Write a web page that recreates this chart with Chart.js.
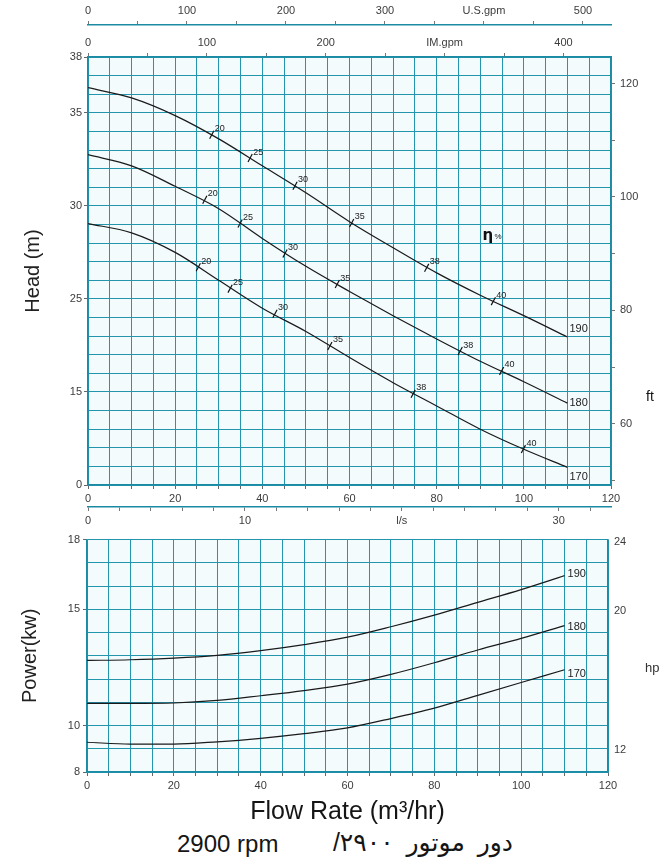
<!DOCTYPE html>
<html>
<head>
<meta charset="utf-8">
<script src="https://cdn.jsdelivr.net/npm/chart.js@4"></script>
<style>
html,body{margin:0;padding:0;background:#fff;width:667px;height:861px;overflow:hidden;}
#c1{position:absolute;left:0;top:0;}
#c2{position:absolute;left:0;top:527px;}
.cap{position:absolute;font-family:'Liberation Sans','DejaVu Sans',Arial,sans-serif;font-size:24px;color:#151515;white-space:nowrap;line-height:30px;}
</style>
</head>
<body>
<canvas id="c1" width="667" height="530"></canvas>
<canvas id="c2" width="667" height="300"></canvas>
<div class="cap" style="left:177px;top:829px;">2900 rpm</div>
<div class="cap" dir="rtl" style="left:290px;top:827px;width:223px;text-align:right;font-size:25px;word-spacing:6px;">دور موتور ۲۹۰۰/</div>
<script>
// ---------- data ----------
const flowQ = [0, 10, 20, 30, 40, 50, 60, 70, 80, 90, 100, 110];          // m3/hr
const diameters = ['190', '180', '170'];
const head190 = [36.35, 35.8, 34.85, 33.6, 32.15, 30.7, 29.15, 27.75, 26.4, 25.2, 24.1, 22.95];
const head180 = [32.75, 32.15, 31.05, 29.85, 28.25, 26.75, 25.4, 24.1, 22.85, 21.65, 20.55, 19.4];
const head170 = [29.05, 28.55, 27.5, 26.0, 24.5, 23.25, 21.85, 20.5, 19.25, 18.0, 16.92, 15.95];
const power190 = [12.8, 12.83, 12.9, 13.02, 13.22, 13.48, 13.8, 14.25, 14.75, 15.3, 15.85, 16.45];
const power180 = [10.95, 10.95, 10.97, 11.08, 11.28, 11.5, 11.78, 12.2, 12.7, 13.25, 13.75, 14.3];
const power170 = [9.28, 9.2, 9.2, 9.3, 9.45, 9.65, 9.9, 10.3, 10.75, 11.3, 11.85, 12.4];

const effLabels = [20, 25, 30, 35, 38, 40];                                  // efficiency %
const eff190Q = [28.4, 37.2, 47.5, 60.5, 77.7, 93.0];
const eff190H = [33.82, 32.57, 31.08, 29.08, 26.67, 24.88];
const eff180Q = [26.8, 34.9, 45.2, 57.2, 85.4, 94.9];
const eff180H = [30.33, 29.05, 27.44, 25.8, 22.2, 21.13];
const eff170Q = [25.3, 32.6, 42.9, 55.5, 74.6, 99.9];
const eff170H = [26.7, 25.55, 24.2, 22.47, 19.9, 16.93];

const headTickValues = [38, 35, 30, 25, 20, 15];
const headTickLabels = ['38', '35', '30', '25', '15', '0'];
const ftTickLabels = [60, 80, 100, 120];
const usTickLabels = ['0', '100', '200', '300', 'U.S.gpm', '500'];
const imTickLabels = ['0', '100', '200', 'IM.gpm', '400'];
const lsTickLabels = ['0', '10', 'l/s', '30'];
const powerTickLabels = [18, 15, 10, 8];
const hpTickLabels = [12, 20, 24];

// unit conversions
const M3H_TO_USGPM = 4.4029, M3H_TO_IMGPM = 3.6662, M3H_TO_LS = 1 / 3.6, M_TO_FT = 3.2808, KW_TO_HP = 1 / 0.7457;

// ---------- styling ----------
const GRID = '#2396ae';
const BORDER = '#1c8aa3';
const TXT = '#3c3c3c';
const FAM = "'Liberation Sans', Arial, sans-serif";
const TFONT = { family: FAM, size: 11 };
const near = (v, m) => Math.abs(v / m - Math.round(v / m)) < 1e-6;

const plotBg = {
  id: 'plotBg',
  beforeDraw(chart) {
    const { ctx, chartArea: a } = chart;
    ctx.save();
    ctx.fillStyle = '#f3fbfd';
    ctx.fillRect(a.left, a.top, a.right - a.left, a.bottom - a.top);
    ctx.restore();
  }
};

function curve(label, ys) {
  return {
    label, data: flowQ.map((q, i) => ({ x: q, y: ys[i] })),
    borderColor: '#1a1a1a', borderWidth: 1.2, pointRadius: 0, fill: false,
    cubicInterpolationMode: 'monotone', xAxisID: 'x', yAxisID: 'y'
  };
}
function effMarks(qs, hs) {
  return {
    type: 'scatter', label: 'eff', data: qs.map((q, i) => ({ x: q, y: hs[i] })),
    pointStyle: 'line', rotation: -62, pointRadius: 4.5, borderColor: '#111', borderWidth: 1.2,
    showLine: false, xAxisID: 'x', yAxisID: 'y'
  };
}

const headText = {
  id: 'headText',
  afterDatasetsDraw(chart) {
    const { ctx, chartArea: a, scales } = chart;
    ctx.save();
    ctx.fillStyle = '#222';
    ctx.textBaseline = 'middle';
    ctx.textAlign = 'left';
    ctx.font = "11px " + FAM;
    const dy = [-8, 0, 10];
    for (let d = 0; d < 3; d++) {
      const pts = chart.getDatasetMeta(d).data;
      const p = pts[pts.length - 1];
      ctx.fillText(diameters[d], p.x + 2, p.y + dy[d]);
    }
    ctx.font = "9px " + FAM;
    for (let d = 3; d < 6; d++) {
      chart.getDatasetMeta(d).data.forEach((p, i) => ctx.fillText(String(effLabels[i]), p.x + 3, p.y - 6));
    }
    const ex = scales.x.getPixelForValue(90.5), ey = scales.y.getPixelForValue(28.35);
    ctx.font = "bold 15px 'DejaVu Sans', sans-serif";
    ctx.fillStyle = '#111';
    ctx.fillText('η', ex, ey);
    ctx.font = "8px " + FAM;
    ctx.fillText('%', ex + 12, ey);
    ctx.font = "14px " + FAM;
    ctx.fillText('ft', a.right + 35, scales.y.getPixelForValue(19.7));
    ctx.restore();
  }
};

const powerText = {
  id: 'powerText',
  afterDatasetsDraw(chart) {
    const { ctx, chartArea: a, scales } = chart;
    ctx.save();
    ctx.fillStyle = '#222';
    ctx.textBaseline = 'middle';
    ctx.textAlign = 'left';
    ctx.font = "11px " + FAM;
    const dy = [-2, 1, 4];
    for (let d = 0; d < 3; d++) {
      const pts = chart.getDatasetMeta(d).data;
      const p = pts[pts.length - 1];
      ctx.fillText(diameters[d], p.x + 3, p.y + dy[d]);
    }
    ctx.font = "13px " + FAM;
    ctx.fillStyle = '#333';
    ctx.fillText('hp', a.right + 37, scales.y.getPixelForValue(12.45));
    ctx.restore();
  }
};

const flowX = (height, extra) => Object.assign({
  type: 'linear', position: 'bottom', min: 0, max: 120, weight: 1,
  ticks: { stepSize: 5, autoSkip: false, maxRotation: 0, font: TFONT, color: TXT, padding: 3,
           callback: v => near(v, 20) ? String(Math.round(v)) : '' },
  grid: { color: GRID, lineWidth: 1, tickLength: 4, tickColor: '#666' },
  border: { color: BORDER, width: 1.5 },
  afterFit: s => { s.height = height; }
}, extra || {});

// ---------- chart 1 : head ----------
new Chart(document.getElementById('c1'), {
  type: 'line',
  data: {
    datasets: [
      curve('190', head190), curve('180', head180), curve('170', head170),
      effMarks(eff190Q, eff190H), effMarks(eff180Q, eff180H), effMarks(eff170Q, eff170H)
    ]
  },
  options: {
    responsive: false, animation: false, devicePixelRatio: 1,
    layout: { padding: 0 },
    plugins: { legend: { display: false }, tooltip: { enabled: false } },
    scales: {
      x: flowX(22),
      ls: {
        type: 'linear', position: 'bottom', min: 0, max: 120 * M3H_TO_LS, weight: 2,
        afterBuildTicks: s => { s.ticks = s.ticks.filter(t => near(t.value, 2) && t.value < s.max - 0.01); },
        ticks: { stepSize: 2, includeBounds: false, autoSkip: false, maxRotation: 0, font: TFONT, color: TXT, padding: 3,
                 callback: v => near(v, 10) ? lsTickLabels[Math.round(v / 10)] : '' },
        grid: { drawOnChartArea: false, tickLength: 4, tickColor: '#777' },
        border: { color: BORDER, width: 1.5 },
        afterFit: s => { s.height = 23; }
      },
      us: {
        type: 'linear', position: 'top', min: 0, max: 120 * M3H_TO_USGPM, weight: 2,
        afterBuildTicks: s => { s.ticks = s.ticks.filter(t => near(t.value, 50) && t.value < s.max - 0.01); },
        ticks: { stepSize: 50, includeBounds: false, autoSkip: false, maxRotation: 0, font: TFONT, color: TXT, padding: 3,
                 callback: v => near(v, 100) ? usTickLabels[Math.round(v / 100)] : '' },
        grid: { drawOnChartArea: false, tickLength: 4, tickColor: '#777' },
        border: { color: BORDER, width: 1.5 },
        afterFit: s => { s.height = 25; }
      },
      im: {
        type: 'linear', position: 'top', min: 0, max: 120 * M3H_TO_IMGPM, weight: 1,
        afterBuildTicks: s => { s.ticks = s.ticks.filter(t => near(t.value, 50) && t.value < s.max - 0.01); },
        ticks: { stepSize: 50, includeBounds: false, autoSkip: false, maxRotation: 0, font: TFONT, color: TXT, padding: 3,
                 callback: v => near(v, 100) ? imTickLabels[Math.round(v / 100)] : '' },
        grid: { drawOnChartArea: false, tickLength: 4, tickColor: '#777' },
        border: { color: BORDER, width: 1.5 },
        afterFit: s => { s.height = 32; }
      },
      y: {
        type: 'linear', position: 'left', min: 15, max: 38,
        ticks: { stepSize: 1, autoSkip: false, font: TFONT, color: TXT, padding: 2,
                 callback: v => { const i = headTickValues.findIndex(t => Math.abs(t - v) < 1e-6); return i >= 0 ? headTickLabels[i] : ''; } },
        grid: { color: GRID, lineWidth: 1, tickLength: 4,
                tickColor: c => headTickValues.some(t => Math.abs(t - c.tick.value) < 1e-6) ? '#666' : 'rgba(0,0,0,0)' },
        border: { color: BORDER, width: 1.5 },
        title: { display: true, text: 'Head (m)', font: { family: FAM, size: 20 }, color: '#222', padding: { top: 21, bottom: 0 } },
        afterFit: s => { s.width = 88; }
      },
      ft: {
        type: 'linear', position: 'right', min: 15 * M_TO_FT, max: 38 * M_TO_FT,
        afterBuildTicks: s => { s.ticks = s.ticks.filter(t => near(t.value, 10)); },
        ticks: { stepSize: 10, includeBounds: false, autoSkip: false, font: TFONT, color: TXT, padding: 5,
                 callback: v => ftTickLabels.some(t => Math.abs(t - v) < 1e-6) ? String(Math.round(v)) : '' },
        grid: { drawOnChartArea: false, tickLength: 4, tickColor: '#777' },
        border: { color: BORDER, width: 1.5 },
        afterFit: s => { s.width = 56; }
      }
    }
  },
  plugins: [plotBg, headText]
});

// ---------- chart 2 : power ----------
new Chart(document.getElementById('c2'), {
  type: 'line',
  data: {
    datasets: [curve('190', power190), curve('180', power180), curve('170', power170)]
  },
  options: {
    responsive: false, animation: false, devicePixelRatio: 1,
    layout: { padding: { top: 4, left: 0, right: 0, bottom: 0 } },
    plugins: { legend: { display: false }, tooltip: { enabled: false } },
    scales: {
      x: flowX(55, {
        title: { display: true, text: 'Flow Rate (m³/hr)', font: { family: FAM, size: 25 }, color: '#151515', padding: { top: 0, bottom: 0 } }
      }),
      y: {
        type: 'linear', position: 'left', min: 8, max: 18,
        ticks: { stepSize: 1, autoSkip: false, font: TFONT, color: TXT, padding: 3,
                 callback: v => powerTickLabels.some(t => Math.abs(t - v) < 1e-6) ? String(Math.round(v)) : '' },
        grid: { color: GRID, lineWidth: 1, tickLength: 4,
                tickColor: c => powerTickLabels.some(t => Math.abs(t - c.tick.value) < 1e-6) ? '#666' : 'rgba(0,0,0,0)' },
        border: { color: BORDER, width: 1.5 },
        title: { display: true, text: 'Power(kw)', font: { family: FAM, size: 20 }, color: '#222', padding: { top: 18, bottom: 0 } },
        afterFit: s => { s.width = 87; }
      },
      hp: {
        type: 'linear', position: 'right', min: 8 * KW_TO_HP, max: 18 * KW_TO_HP,
        afterBuildTicks: s => { s.ticks = hpTickLabels.map(v => ({ value: v })); },
        ticks: { autoSkip: false, font: TFONT, color: TXT, padding: 6, callback: v => String(Math.round(v)) },
        grid: { drawOnChartArea: false, drawTicks: false },
        border: { color: BORDER, width: 1.5 },
        afterFit: s => { s.width = 59; }
      }
    }
  },
  plugins: [plotBg, powerText]
});
</script>
</body>
</html>
